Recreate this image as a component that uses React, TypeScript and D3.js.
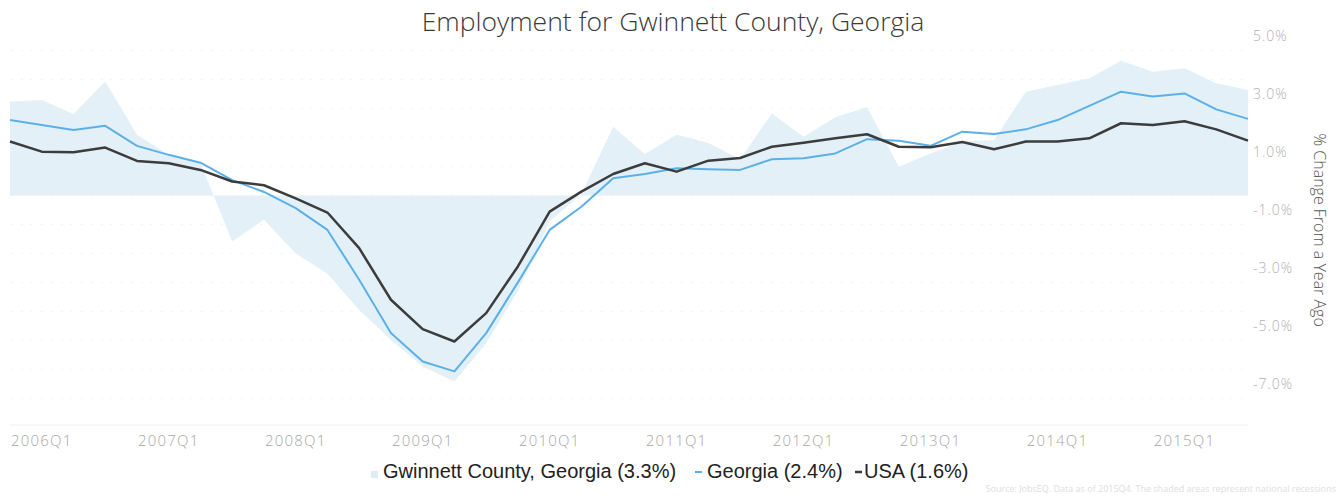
import React from "react";
import * as d3 from "d3";

const quarters = [
  "2005Q4","2006Q1","2006Q2","2006Q3","2006Q4","2007Q1","2007Q2","2007Q3","2007Q4","2008Q1",
  "2008Q2","2008Q3","2008Q4","2009Q1","2009Q2","2009Q3","2009Q4","2010Q1","2010Q2","2010Q3",
  "2010Q4","2011Q1","2011Q2","2011Q3","2011Q4","2012Q1","2012Q2","2012Q3","2012Q4","2013Q1",
  "2013Q2","2013Q3","2013Q4","2014Q1","2014Q2","2014Q3","2014Q4","2015Q1","2015Q2","2015Q3",
];

const gwinnett = [
  2.74, 2.79, 2.31, 3.43, 1.59, 0.9, 0.62, -2.09, -1.34, -2.5,
  -3.2, -4.45, -5.48, -6.4, -6.92, -5.6, -3.8, -1.4, -0.45, 1.87,
  0.93, 1.59, 1.31, 0.75, 2.33, 1.52, 2.2, 2.55, 0.49, 0.95,
  1.36, 1.41, 3.08, 3.31, 3.54, 4.15, 3.77, 3.89, 3.37, 3.14,
];

const georgia = [
  2.1, 1.93, 1.76, 1.9, 1.21, 0.9, 0.63, 0.03, -0.38, -0.94,
  -1.69, -3.41, -5.25, -6.23, -6.57, -5.25, -3.5, -1.69, -0.89, 0.09,
  0.24, 0.44, 0.4, 0.38, 0.75, 0.78, 0.95, 1.44, 1.39, 1.21,
  1.7, 1.62, 1.78, 2.1, 2.59, 3.08, 2.91, 3.02, 2.47, 2.14,
];

const usa = [
  1.36, 1.01, 0.99, 1.15, 0.69, 0.61, 0.38, -0.02, -0.15, -0.6,
  -1.09, -2.32, -4.1, -5.11, -5.54, -4.56, -2.95, -1.06, -0.37, 0.24,
  0.61, 0.32, 0.7, 0.79, 1.18, 1.32, 1.47, 1.61, 1.18, 1.16,
  1.34, 1.09, 1.36, 1.36, 1.47, 1.99, 1.93, 2.06, 1.78, 1.39,
];

const xTickLabels = ["2006Q1","2007Q1","2008Q1","2009Q1","2010Q1","2011Q1","2012Q1","2013Q1","2014Q1","2015Q1"];
const yTickValues = [5, 3, 1, -1, -3, -5, -7];
const gridValues = [-7.5, -6.5, -5.5, -4.5, -3.5, -2.5, -1.5, -0.5, 0.5, 1.5, 2.5, 3.5, 4.5];
const areaBaseline = -0.5;

const legendItems = [
  { label: "Gwinnett County, Georgia (3.3%)", kind: "area" },
  { label: "Georgia (2.4%)", kind: "blue" },
  { label: "USA (1.6%)", kind: "black" },
];

const W = 1338;
const H = 496;

export default function App() {
  const x = d3.scaleLinear().domain([0, quarters.length - 1]).range([10, 1248]);
  const y = d3.scaleLinear().domain([-8.42, 5]).range([425, 36]);

  const area = d3
    .area<number>()
    .x((_, i) => x(i))
    .y0(() => y(areaBaseline))
    .y1((d) => y(d));
  const line = d3
    .line<number>()
    .x((_, i) => x(i))
    .y((d) => y(d));

  const fmt = (v: number) => `${v.toFixed(1)}%`;

  return (
    <div style={{ position: "absolute", left: 0, top: 0 }}>
      <svg width={W} height={H} style={{ display: "block", background: "#fff" }}>
        <text
          x={673}
          y={31}
          textAnchor="middle"
          fontFamily="'Open Sans', sans-serif"
          fontWeight={300}
          fontSize={26.5}
          fill="#3a3a3a"
        >
          Employment for Gwinnett County, Georgia
        </text>

        {gridValues.map((g) => (
          <line
            key={g}
            x1={10}
            x2={1248}
            y1={y(g)}
            y2={y(g)}
            stroke="#f5f5f5"
            strokeDasharray="3,7"
          />
        ))}
        <line x1={10} x2={1248} y1={425} y2={425} stroke="#f0f0f0" />

        <path d={area(gwinnett) || ""} fill="#e3f0f8" />
        <path d={line(georgia) || ""} fill="none" stroke="#5cb0e8" strokeWidth={2} strokeLinejoin="round" />
        <path d={line(usa) || ""} fill="none" stroke="#3c3c3c" strokeWidth={2.5} strokeLinejoin="round" />

        {xTickLabels.map((t) => {
          const i = quarters.indexOf(t);
          return (
            <text
              key={t}
              x={x(i)}
              y={446}
              textAnchor="middle"
              fontFamily="'Open Sans', sans-serif"
              fontWeight={300}
              fontSize={15}
              letterSpacing={1.2}
              fill="#a8a8a8"
            >
              {t}
            </text>
          );
        })}

        {yTickValues.map((v) => (
          <text
            key={v}
            x={1253}
            y={y(v) + 5}
            textAnchor="start"
            fontFamily="'Open Sans', sans-serif"
            fontWeight={300}
            fontSize={14}
            letterSpacing={1}
            fill="#b0b0b0"
          >
            {fmt(v)}
          </text>
        ))}

        <text
          transform={`translate(1314,230) rotate(90)`}
          textAnchor="middle"
          fontFamily="'Open Sans', sans-serif"
          fontWeight={300}
          fontSize={16}
          fill="#555"
        >
          % Change From a Year Ago
        </text>

        <g fontFamily="'Liberation Sans', Arial, sans-serif" fontSize={20} fill="#222">
          <rect x={371} y={471} width={7} height={7} fill="#dcedf7" />
          <text x={383} y={478}>{legendItems[0].label}</text>
          <line x1={695} x2={702} y1={472} y2={472} stroke="#5cb0e8" strokeWidth={2} />
          <text x={707} y={478}>{legendItems[1].label}</text>
          <line x1={855} x2={862} y1={472} y2={472} stroke="#3c3c3c" strokeWidth={2.5} />
          <text x={864} y={478}>{legendItems[2].label}</text>
        </g>

        <text
          x={1336}
          y={492}
          textAnchor="end"
          fontFamily="'Open Sans', sans-serif"
          fontSize={9}
          fill="#dedede"
        >
          Source: JobsEQ. Data as of 2015Q4. The shaded areas represent national recessions
        </text>
      </svg>
    </div>
  );
}
